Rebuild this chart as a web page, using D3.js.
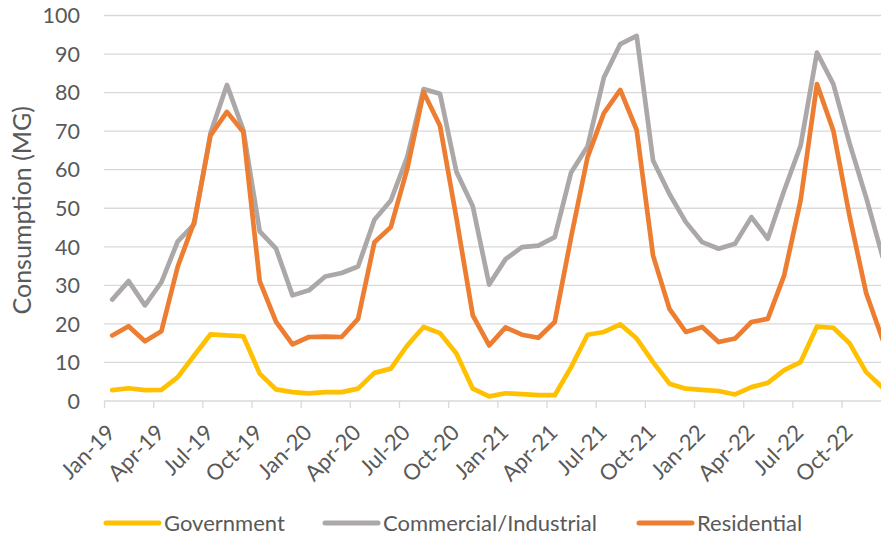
<!DOCTYPE html>
<html>
<head>
<meta charset="utf-8">
<script src="https://cdn.jsdelivr.net/npm/d3@7/dist/d3.min.js"></script>
<style>
  html, body { margin: 0; padding: 0; background: #fff; }
  svg { display: block; font-family: "Lato", "Open Sans", sans-serif; }
</style>
</head>
<body>
<svg id="chart" width="881" height="535"></svg>
<script>
// Monthly water consumption (MG), Jan 2019 – Dec 2022
const months = d3.timeMonths(new Date(2019, 0, 1), new Date(2023, 0, 1));

const government = [
  2.8, 3.3, 2.8, 2.9, 6.2, 11.8, 17.3, 17.0, 16.8, 7.1, 3.0, 2.3,
  2.0, 2.3, 2.3, 3.2, 7.3, 8.4, 14.4, 19.2, 17.6, 12.3, 3.2, 1.2,
  2.0, 1.8, 1.5, 1.5, 8.8, 17.2, 17.9, 19.9, 16.2, 10.1, 4.5, 3.2,
  2.9, 2.6, 1.7, 3.6, 4.7, 8.0, 10.1, 19.3, 19.0, 14.9, 7.5, 3.5
];
const commercial = [
  26.3, 31.1, 24.8, 30.8, 41.4, 45.8, 69.5, 82.0, 70.3, 44.0, 39.5, 27.4,
  28.7, 32.3, 33.2, 34.9, 47.0, 52.0, 63.3, 80.9, 79.7, 59.5, 50.5, 30.2,
  36.8, 39.9, 40.3, 42.5, 59.3, 66.0, 83.9, 92.6, 94.7, 62.4, 53.7, 46.4,
  41.2, 39.5, 40.8, 47.7, 42.1, 54.6, 66.2, 90.4, 82.2, 66.7, 52.8, 37.5
];
const residential = [
  17.0, 19.4, 15.5, 18.1, 34.9, 46.4, 68.9, 75.0, 69.8, 31.1, 20.5, 14.7,
  16.6, 16.7, 16.6, 21.3, 41.2, 45.1, 60.2, 80.1, 71.4, 47.5, 22.2, 14.4,
  19.1, 17.2, 16.4, 20.5, 42.5, 63.2, 74.7, 80.7, 70.3, 37.7, 23.9, 17.9,
  19.2, 15.3, 16.2, 20.5, 21.3, 32.6, 52.0, 82.2, 70.1, 47.7, 28.0, 16.0
];

const seriesNames = ["Government", "Commercial/Industrial", "Residential"];
const seriesColors = ["#FFC000", "#ABA8A7", "#ED7D31"];
const tickLabels = ["Jan-19", "Apr-19", "Jul-19", "Oct-19", "Jan-20", "Apr-20", "Jul-20", "Oct-20",
                    "Jan-21", "Apr-21", "Jul-21", "Oct-21", "Jan-22", "Apr-22", "Jul-22", "Oct-22"];
const yTicks = [0, 10, 20, 30, 40, 50, 60, 70, 80, 90, 100];

const svg = d3.select("#chart");
const W = 881;
const left = 104, monthW = 16.39;
const plotBottom = 401, plotTop = 15.5;
const textColor = "#595959";

// one slot per month; points sit in the middle of their slot
const x = d3.scaleLinear().domain([0, months.length]).range([left, left + months.length * monthW]);
const y = d3.scaleLinear().domain([0, 100]).range([plotBottom, plotTop]);

// horizontal gridlines
svg.append("g")
  .selectAll("line")
  .data(yTicks.filter(d => d > 0))
  .join("line")
  .attr("x1", left).attr("x2", W)
  .attr("y1", d => y(d)).attr("y2", d => y(d))
  .attr("stroke", "#D9D9D9").attr("stroke-width", 1.3);

// y-axis tick labels
svg.append("g")
  .selectAll("text")
  .data(yTicks)
  .join("text")
  .attr("x", 80).attr("y", d => y(d))
  .attr("dy", "0.36em")
  .attr("text-anchor", "end")
  .attr("fill", textColor)
  .style("font-size", "21.5px")
  .text(d => d);

// y-axis title
svg.append("text")
  .attr("transform", `translate(31,${(plotTop + plotBottom) / 2 + 2}) rotate(-90)`)
  .attr("text-anchor", "middle")
  .attr("fill", textColor)
  .style("font-size", "25px")
  .text("Consumption (MG)");

// x axis: baseline, quarterly tick marks and rotated labels
const tickIdx = tickLabels.map((_, k) => k * 3);
const xAxis = d3.axisBottom(x)
  .tickValues(tickIdx)
  .tickSize(7)
  .tickFormat((d, k) => tickLabels[k]);

const gx = svg.append("g")
  .attr("transform", `translate(0,${plotBottom})`)
  .call(xAxis);
gx.select(".domain")
  .attr("d", `M${left},0H${W}`)
  .attr("stroke", "#D9D9D9").attr("stroke-width", 1.3);
gx.selectAll(".tick line").attr("stroke", "#D9D9D9").attr("stroke-width", 1.3);
gx.selectAll(".tick text")
  .attr("fill", textColor)
  .style("font-size", "22px")
  .style("font-family", "Lato, 'Open Sans', sans-serif")
  .attr("text-anchor", "end")
  .attr("dy", null)
  .attr("y", null)
  .attr("transform", "translate(12,33) rotate(-45)");

// series lines
const line = d3.line()
  .x((d, i) => x(i + 0.5))
  .y(d => y(d));

const allSeries = [government, commercial, residential];
svg.append("g")
  .selectAll("path")
  .data(allSeries)
  .join("path")
  .attr("d", d => line(d))
  .attr("fill", "none")
  .attr("stroke", (d, i) => seriesColors[i])
  .attr("stroke-width", 4.7)
  .attr("stroke-linejoin", "round")
  .attr("stroke-linecap", "round");

// legend
const legendX = [104, 323, 637];
const lg = svg.append("g")
  .selectAll("g")
  .data(seriesNames)
  .join("g")
  .attr("transform", (d, i) => `translate(${legendX[i]},523)`);
lg.append("line")
  .attr("x1", 2).attr("x2", 55)
  .attr("stroke", (d, i) => seriesColors[i])
  .attr("stroke-width", 5)
  .attr("stroke-linecap", "round");
lg.append("text")
  .attr("x", 60)
  .attr("dy", "0.36em")
  .attr("fill", textColor)
  .style("font-size", "22px")
  .text(d => d);
</script>
</body>
</html>
